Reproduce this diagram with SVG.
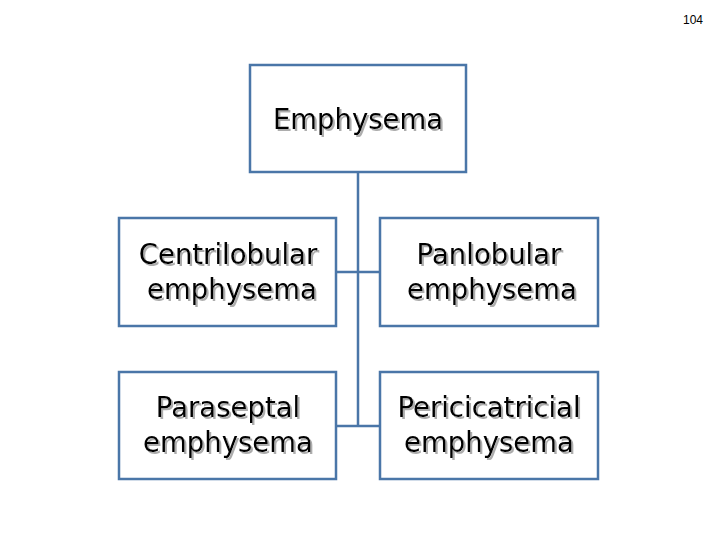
<svg xmlns="http://www.w3.org/2000/svg" width="720" height="540" viewBox="0 0 720 540">
<defs><filter id="sh" x="-10%" y="-20%" width="120%" height="150%"><feDropShadow dx="2" dy="2" stdDeviation="0.6" flood-color="#999" flood-opacity="0.8"/></filter></defs>
<style>
.b{fill:#fff;stroke:#4a76a8;stroke-width:2.5}
.t{font-family:"DejaVu Sans",sans-serif;font-size:27.5px;fill:#000;text-anchor:middle;filter:url(#sh)}
.c{stroke:#4a76a8;stroke-width:2.5;fill:none}
</style>
<rect width="720" height="540" fill="#fff"/>
<text x="703" y="24" font-family="Liberation Sans,sans-serif" font-size="12" text-anchor="end">104</text>
<g id="connectors">
<path class="c" d="M358 172V426M336 272H380M336 426H380"/>
</g>
<g id="n0"><rect class="b" x="250" y="65" width="216" height="107"/>
<text class="t" x="358" y="129">Emphysema</text></g>
<g id="n1"><rect class="b" x="119" y="218" width="217" height="108"/>
<text class="t" x="228" y="264">Centrilobular</text>
<text class="t" x="232" y="299">emphysema</text></g>
<g id="n2"><rect class="b" x="380" y="218" width="218" height="108"/>
<text class="t" x="489" y="264">Panlobular</text>
<text class="t" x="492" y="299">emphysema</text></g>
<g id="n3"><rect class="b" x="119" y="372" width="217" height="107"/>
<text class="t" x="228" y="417">Paraseptal</text>
<text class="t" x="228" y="452">emphysema</text></g>
<g id="n4"><rect class="b" x="380" y="372" width="218" height="107"/>
<text class="t" x="489" y="417">Pericicatricial</text>
<text class="t" x="489" y="452">emphysema</text></g>
</svg>
